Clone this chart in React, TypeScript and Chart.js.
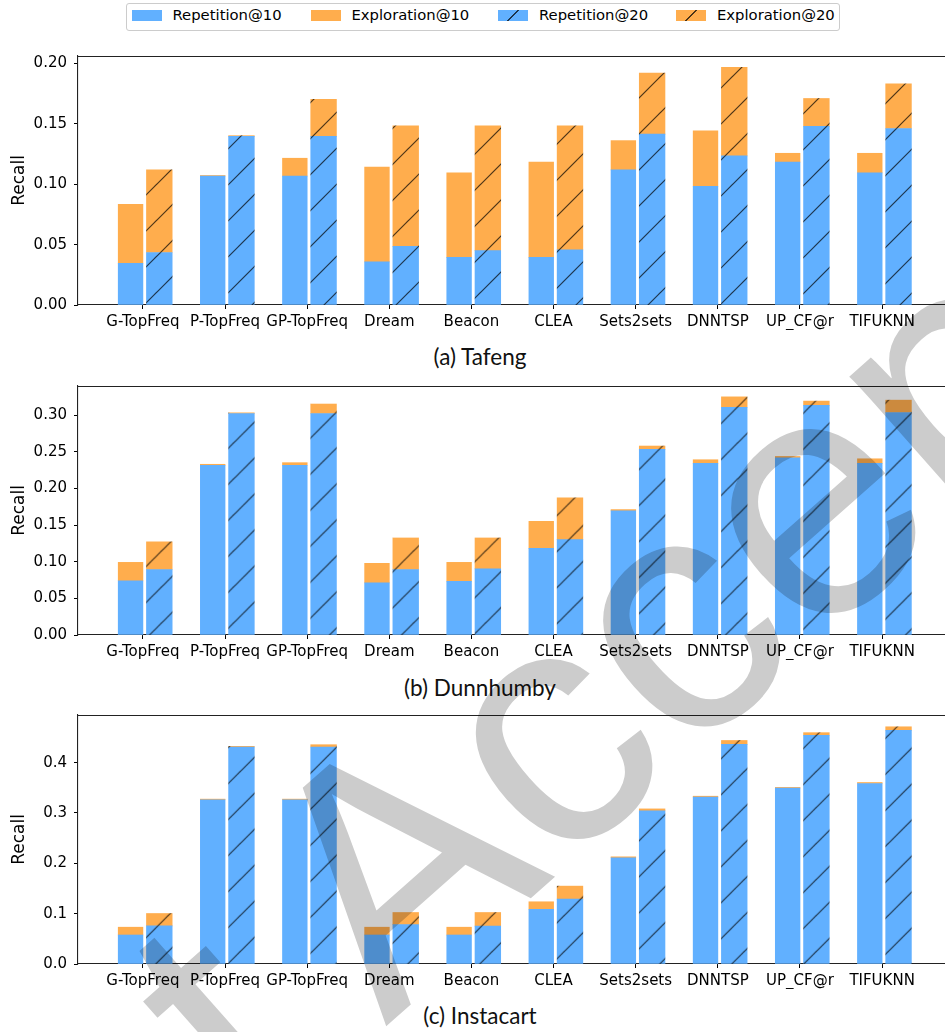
import React, { useEffect, useRef } from "react";
import { Chart, registerables } from "chart.js";

Chart.register(...registerables);

const categories = ["G-TopFreq", "P-TopFreq", "GP-TopFreq", "Dream", "Beacon", "CLEA", "Sets2sets", "DNNTSP", "UP_CF@r", "TIFUKNN"];
const legendLabels = ["Repetition@10", "Exploration@10", "Repetition@20", "Exploration@20"];

// (a) Tafeng
const tafengRep10 = [0.0346, 0.1068, 0.1068, 0.0357, 0.0395, 0.0395, 0.1119, 0.0984, 0.1184, 0.1095];
const tafengExp10 = [0.0489, 0.0005, 0.0148, 0.0786, 0.0700, 0.0789, 0.0243, 0.0459, 0.0073, 0.0162];
const tafengRep20 = [0.0435, 0.1397, 0.1397, 0.0486, 0.0451, 0.0457, 0.1416, 0.1235, 0.1481, 0.1462];
const tafengExp20 = [0.0684, 0.0006, 0.0306, 0.0998, 0.1033, 0.1027, 0.0506, 0.0735, 0.0230, 0.0370];

// (b) Dunnhumby
const dunnRep10 = [0.0738, 0.2316, 0.2316, 0.0711, 0.0733, 0.1182, 0.1693, 0.2342, 0.2418, 0.2342];
const dunnExp10 = [0.0253, 0.0013, 0.0035, 0.0267, 0.0258, 0.0369, 0.0018, 0.0049, 0.0018, 0.0062];
const dunnRep20 = [0.0893, 0.3022, 0.3022, 0.0893, 0.0902, 0.1302, 0.2533, 0.3107, 0.3133, 0.3036];
const dunnExp20 = [0.0378, 0.0009, 0.0129, 0.0431, 0.0422, 0.0569, 0.0045, 0.0142, 0.0058, 0.0168];

// (c) Instacart
const instaRep10 = [0.0576, 0.3262, 0.3262, 0.0576, 0.0576, 0.1087, 0.2110, 0.3314, 0.3495, 0.3586];
const instaExp10 = [0.0155, 0.0013, 0.0013, 0.0155, 0.0155, 0.0149, 0.0019, 0.0019, 0.0013, 0.0019];
const instaRep20 = [0.0757, 0.4311, 0.4311, 0.0783, 0.0751, 0.1288, 0.3042, 0.4362, 0.4544, 0.4641];
const instaExp20 = [0.0246, 0.0013, 0.0045, 0.0240, 0.0272, 0.0259, 0.0039, 0.0078, 0.0051, 0.0071];

const BLUE = "rgb(97,176,255)";
const ORANGE = "rgb(255,173,77)";
const FONT = "'DejaVu Sans', sans-serif";
const TICK_SIZE = 15;

function makeHatch(color: string, shift: number): CanvasPattern | string {
  const c = document.createElement("canvas");
  const n = 36;
  c.width = n;
  c.height = n;
  const g = c.getContext("2d");
  if (!g) return color;
  g.fillStyle = color;
  g.fillRect(0, 0, n, n);
  g.strokeStyle = "rgba(0,0,0,0.7)";
  g.lineWidth = 1.2;
  for (const o of [-n, 0, n]) {
    g.beginPath();
    g.moveTo(o - 2, n + 2);
    g.lineTo(o + n + 2, -2);
    g.stroke();
  }
  const p = g.createPattern(c, "repeat");
  if (!p) return color;
  p.setTransform(new DOMMatrix().translate(shift, 0));
  return p;
}

const framePlugin = {
  id: "frame",
  afterDraw(chart: any) {
    const { ctx, chartArea } = chart;
    ctx.save();
    ctx.strokeStyle = "#222";
    ctx.lineWidth = 1.1;
    ctx.beginPath();
    ctx.moveTo(chartArea.left, chartArea.top + 0.5);
    ctx.lineTo(chartArea.right, chartArea.top + 0.5);
    ctx.lineTo(chartArea.right, chartArea.bottom);
    ctx.stroke();
    ctx.restore();
  },
};

type PanelProps = {
  top: number;
  rep10: number[];
  exp10: number[];
  rep20: number[];
  exp20: number[];
  yMax: number;
  step: number;
  decimals: number;
  hatchShift: number;
};

const CANVAS_W = 960;
const CANVAS_H = 300;

function Panel(props: PanelProps) {
  const ref = useRef<HTMLCanvasElement | null>(null);
  useEffect(() => {
    if (!ref.current) return;
    const { rep10, exp10, rep20, exp20, yMax, step, decimals, hatchShift } = props;
    const off10 = -0.15;
    const off20 = 0.2;
    const pts = (arr: number[], off: number) => arr.map((v, i) => ({ x: i + off, y: v }));
    const chart = new Chart(ref.current, {
      type: "bar",
      data: {
        datasets: [
          { label: legendLabels[0], data: pts(rep10, off10), backgroundColor: BLUE, barThickness: 24.7, grouped: false },
          { label: legendLabels[1], data: pts(exp10, off10), backgroundColor: ORANGE, barThickness: 24.7, grouped: false },
          { label: legendLabels[2], data: pts(rep20, off20), backgroundColor: makeHatch(BLUE, hatchShift) as any, barThickness: 25.7, grouped: false },
          { label: legendLabels[3], data: pts(exp20, off20), backgroundColor: makeHatch(ORANGE, hatchShift) as any, barThickness: 25.7, grouped: false },
        ] as any,
      },
      options: {
        animation: false,
        responsive: false,
        devicePixelRatio: 1,
        layout: { autoPadding: false, padding: { top: 10, right: 13, bottom: 10, left: 0 } },
        plugins: { legend: { display: false }, tooltip: { enabled: false } },
        scales: {
          x: {
            type: "linear",
            min: -0.79,
            max: 9.79,
            stacked: true,
            offset: false,
            afterFit: (s: any) => { s.height = 25; },
            grid: { drawOnChartArea: false, drawTicks: true, tickLength: 4, tickColor: "#000", offset: false },
            border: { display: true, color: "#222", width: 1.1 },
            ticks: {
              stepSize: 1,
              includeBounds: false,
              autoSkip: false,
              maxRotation: 0,
              minRotation: 0,
              padding: 4,
              color: "#000",
              font: { family: FONT, size: TICK_SIZE },
              callback: (v: any) => (Number.isInteger(v) && categories[v] !== undefined ? categories[v] : ""),
            },
          },
          y: {
            type: "linear",
            min: 0,
            max: yMax,
            stacked: true,
            afterFit: (s: any) => { s.width = 78; },
            grid: { drawOnChartArea: false, drawTicks: true, tickLength: 4, tickColor: "#000" },
            border: { display: true, color: "#222", width: 1.1 },
            title: { display: true, text: "Recall", color: "#000", font: { family: FONT, size: 17 }, padding: { top: 9, bottom: 0 } },
            ticks: {
              stepSize: step,
              includeBounds: false,
              padding: 7,
              color: "#000",
              font: { family: FONT, size: TICK_SIZE },
              callback: (v: any) => Number(v).toFixed(decimals),
            },
          },
        },
      } as any,
      plugins: [framePlugin],
    });
    return () => chart.destroy();
  }, []);
  return (
    <canvas
      ref={ref}
      width={CANVAS_W}
      height={CANVAS_H}
      style={{ position: "absolute", left: 0, top: props.top, width: CANVAS_W, height: CANVAS_H }}
    />
  );
}

function LegendItem({ x, label, color, hatch }: { x: number; label: string; color: string; hatch: boolean }) {
  const bg = hatch
    ? `linear-gradient(135deg, transparent calc(50% - 0.8px), rgba(0,0,0,0.7) calc(50% - 0.8px), rgba(0,0,0,0.7) calc(50% + 0.8px), transparent calc(50% + 0.8px)), ${color}`
    : color;
  return (
    <>
      <div style={{ position: "absolute", left: x - 127, top: 6, width: 30, height: 11, background: bg }} />
      <div style={{ position: "absolute", left: x - 127 + 41, top: 2, fontFamily: FONT, fontSize: 14.8, lineHeight: "18px", color: "#000", whiteSpace: "nowrap" }}>{label}</div>
    </>
  );
}

const captionStyle: React.CSSProperties = {
  position: "absolute",
  left: 330,
  width: 300,
  textAlign: "center",
  fontFamily: "Lato, 'Open Sans', sans-serif",
  fontSize: 22.5,
  lineHeight: "26px",
  color: "#111",
};

export default function App() {
  return (
    <div style={{ position: "absolute", left: 0, top: 0, width: 945, height: 1032, overflow: "hidden", background: "#fff" }}>
      <div style={{ position: "absolute", left: 126, top: 3, width: 712, height: 26, border: "1px solid #ccc", borderRadius: 3, background: "#fff" }}>
        <LegendItem x={131.5} label={legendLabels[0]} color={BLUE} hatch={false} />
        <LegendItem x={310.5} label={legendLabels[1]} color={ORANGE} hatch={false} />
        <LegendItem x={498} label={legendLabels[2]} color={BLUE} hatch={true} />
        <LegendItem x={676} label={legendLabels[3]} color={ORANGE} hatch={true} />
      </div>
      <Panel top={40} rep10={tafengRep10} exp10={tafengExp10} rep20={tafengRep20} exp20={tafengExp20} yMax={0.2063} step={0.05} decimals={2} hatchShift={13} />
      <div style={{ ...captionStyle, top: 344 }}>(a) Tafeng</div>
      <Panel top={369.5} rep10={dunnRep10} exp10={dunnExp10} rep20={dunnRep20} exp20={dunnExp20} yMax={0.3397} step={0.05} decimals={2} hatchShift={18.5} />
      <div style={{ ...captionStyle, top: 675 }}>(b) Dunnhumby</div>
      <Panel top={699} rep10={instaRep10} exp10={instaExp10} rep20={instaRep20} exp20={instaExp20} yMax={0.4946} step={0.1} decimals={1} hatchShift={24.7} />
      <div style={{ ...captionStyle, top: 1003 }}>(c) Instacart</div>
      <svg width={945} height={1032} style={{ position: "absolute", left: 0, top: 0, mixBlendMode: "multiply", pointerEvents: "none" }}>
        <text x={-138} y={1490} transform="rotate(-41.5 -138 1490)" fontFamily="'Liberation Sans', Arial, sans-serif" fontSize={340} fill="rgb(204,204,204)">Just Accepted</text>
      </svg>
    </div>
  );
}
